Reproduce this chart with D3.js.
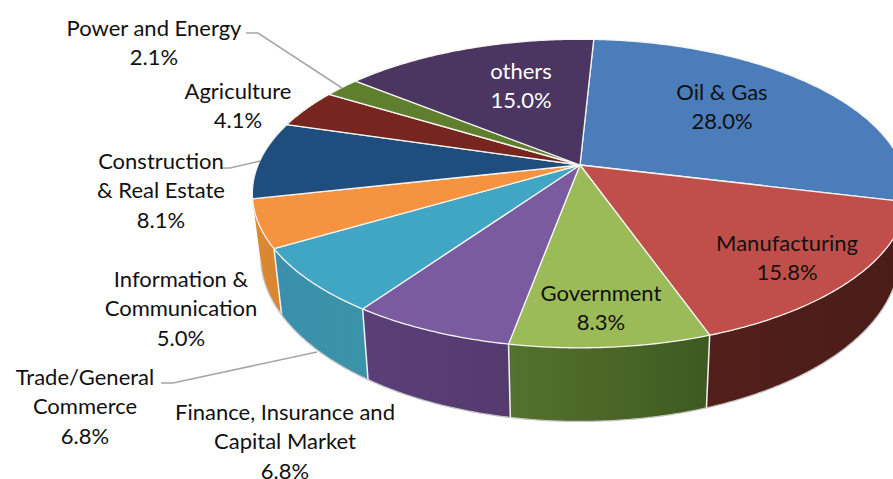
<!DOCTYPE html>
<html lang="en">
<head>
<meta charset="utf-8">
<script src="https://d3js.org/d3.v7.min.js"></script>
<style>
  html, body { margin: 0; background: #fff; }
  svg { display: block; }
  text { font-family: Lato, "Open Sans", sans-serif; font-size: 22px; fill: #111; text-anchor: middle; }
</style>
</head>
<body>
<svg id="chart" width="893" height="479"></svg>
<script>
// sectors, clockwise from the top
const sectors = ["Oil & Gas", "Manufacturing", "Government", "Finance, Insurance and Capital Market",
  "Trade/General Commerce", "Information & Communication", "Construction & Real Estate",
  "Agriculture", "Power and Energy", "others"];
const shares = [28.0, 15.8, 8.3, 6.8, 6.8, 5.0, 8.1, 4.1, 2.1, 15.0];

const topColors = ["#4c7dbb", "#c04f4b", "#9bbb59", "#7b5ba0", "#40a6c3", "#f59340", "#1f4e7e", "#76261f", "#5f7f2e", "#4a3660"];
const wallLeft = ["#2f4d71", "#531f1b", "#55712e", "#5b3f78", "#3a90ac", "#dd8a35", "#1a3a5c", "#4f1d1c", "#40521f", "#33273f"];
const wallRight = ["#2f4d71", "#4a1c17", "#3f5a20", "#553a6e", "#3b93a8", "#d98632", "#1a3a5c", "#4f1d1c", "#40521f", "#33273f"];

// label lines and where each block sits (centre x, first baseline)
const labelLines = [["Oil & Gas"], ["Manufacturing"], ["Government"], ["Finance, Insurance and", "Capital Market"],
  ["Trade/General", "Commerce"], ["Information &", "Communication"], ["Construction", "& Real Estate"],
  ["Agriculture"], ["Power and Energy"], ["others"]];
const labelPos = [[722, 100], [787, 251], [601, 301], [285, 420], [85, 385], [181, 287], [161, 169], [238, 99], [154, 36], [521, 79]];
const labelFill = ["#111", "#111", "#111", "#111", "#111", "#111", "#111", "#111", "#111", "#fff"];

const leaders = [
  [[246, 33], [258, 33], [342, 88]],
  [[222, 168], [230, 168], [260, 161]],
  [[161, 383], [173, 383], [317, 352]]
];

const cx = 580, cy = 165;   // where the slices meet
const A = 322, B = 149;     // pie radii before perspective
const k = 0.185;            // perspective strength
const depth = 60, shrink = 0.975;

function project(a) {
  const u = Math.sin(a), v = -Math.cos(a), w = 1 - k * v;
  return [cx + A * u / w, cy + B * v / w];
}
function projectBottom(a) {
  const v = -Math.cos(a), w = 1 - k * v, p = project(a);
  return [cx + (p[0] - cx) * shrink, p[1] + depth / w];
}
function samples(a0, a1) {
  const n = Math.max(2, Math.ceil((a1 - a0) / 0.01)), out = [];
  for (let i = 0; i <= n; i++) out.push(a0 + (a1 - a0) * i / n);
  return out;
}

const rad = d => d * Math.PI / 180;
const pie = d3.pie().sort(null).startAngle(rad(2.9)).endAngle(rad(362.9)).value(d => d);
const arcs = pie(shares);
const line = d3.line();
const svg = d3.select("#chart");
const defs = svg.append("defs");

// front walls only, the rest is hidden behind the top face
const frontFrom = rad(78), frontTo = rad(257);
arcs.forEach((d, i) => {
  const a0 = Math.max(d.startAngle, frontFrom), a1 = Math.min(d.endAngle, frontTo);
  if (a1 <= a0) return;
  const ts = samples(a0, a1);
  const topEdge = ts.map(project), botEdge = ts.map(projectBottom).reverse();
  const xs = topEdge.map(p => p[0]);
  const g = defs.append("linearGradient").attr("id", "wall" + i)
    .attr("gradientUnits", "userSpaceOnUse")
    .attr("x1", d3.min(xs)).attr("x2", d3.max(xs)).attr("y1", 0).attr("y2", 0);
  g.append("stop").attr("offset", 0).attr("stop-color", wallLeft[i]);
  g.append("stop").attr("offset", 1).attr("stop-color", wallRight[i]);
  svg.append("path")
    .attr("d", line(topEdge.concat(botEdge)) + "Z")
    .attr("fill", `url(#wall${i})`)
    .attr("stroke", "none");
  // white seam at the start of the wall
  if (d.startAngle >= frontFrom) {
    svg.append("path").attr("d", line([project(d.startAngle), projectBottom(d.startAngle)]))
      .attr("stroke", "#f2f2f2").attr("stroke-width", 1.5).attr("fill", "none");
  }
  svg.append("path").attr("d", line(ts.map(projectBottom)))
    .attr("stroke", "#c4c4c4").attr("stroke-width", 1.3).attr("fill", "none");
});

// top face
arcs.forEach((d, i) => {
  const edge = samples(d.startAngle, d.endAngle).map(project);
  svg.append("path")
    .attr("d", line([[cx, cy]].concat(edge)) + "Z")
    .attr("fill", topColors[i])
    .attr("stroke", "#f4f4f0").attr("stroke-width", 1.3).attr("stroke-linejoin", "round");
});

// leader lines
svg.selectAll(".leader").data(leaders).enter().append("path")
  .attr("class", "leader")
  .attr("d", d => line(d))
  .attr("fill", "none").attr("stroke", "#a6a6a6").attr("stroke-width", 1.5);

// labels
sectors.forEach((name, i) => {
  const t = svg.append("text").attr("aria-label", name)
    .attr("x", labelPos[i][0]).attr("y", labelPos[i][1])
    .style("fill", labelFill[i]);
  labelLines[i].concat([shares[i].toFixed(1) + "%"]).forEach((s, j) => {
    t.append("tspan").attr("x", labelPos[i][0]).attr("dy", j ? 29.3 : 0).text(s);
  });
});
</script>
</body>
</html>
